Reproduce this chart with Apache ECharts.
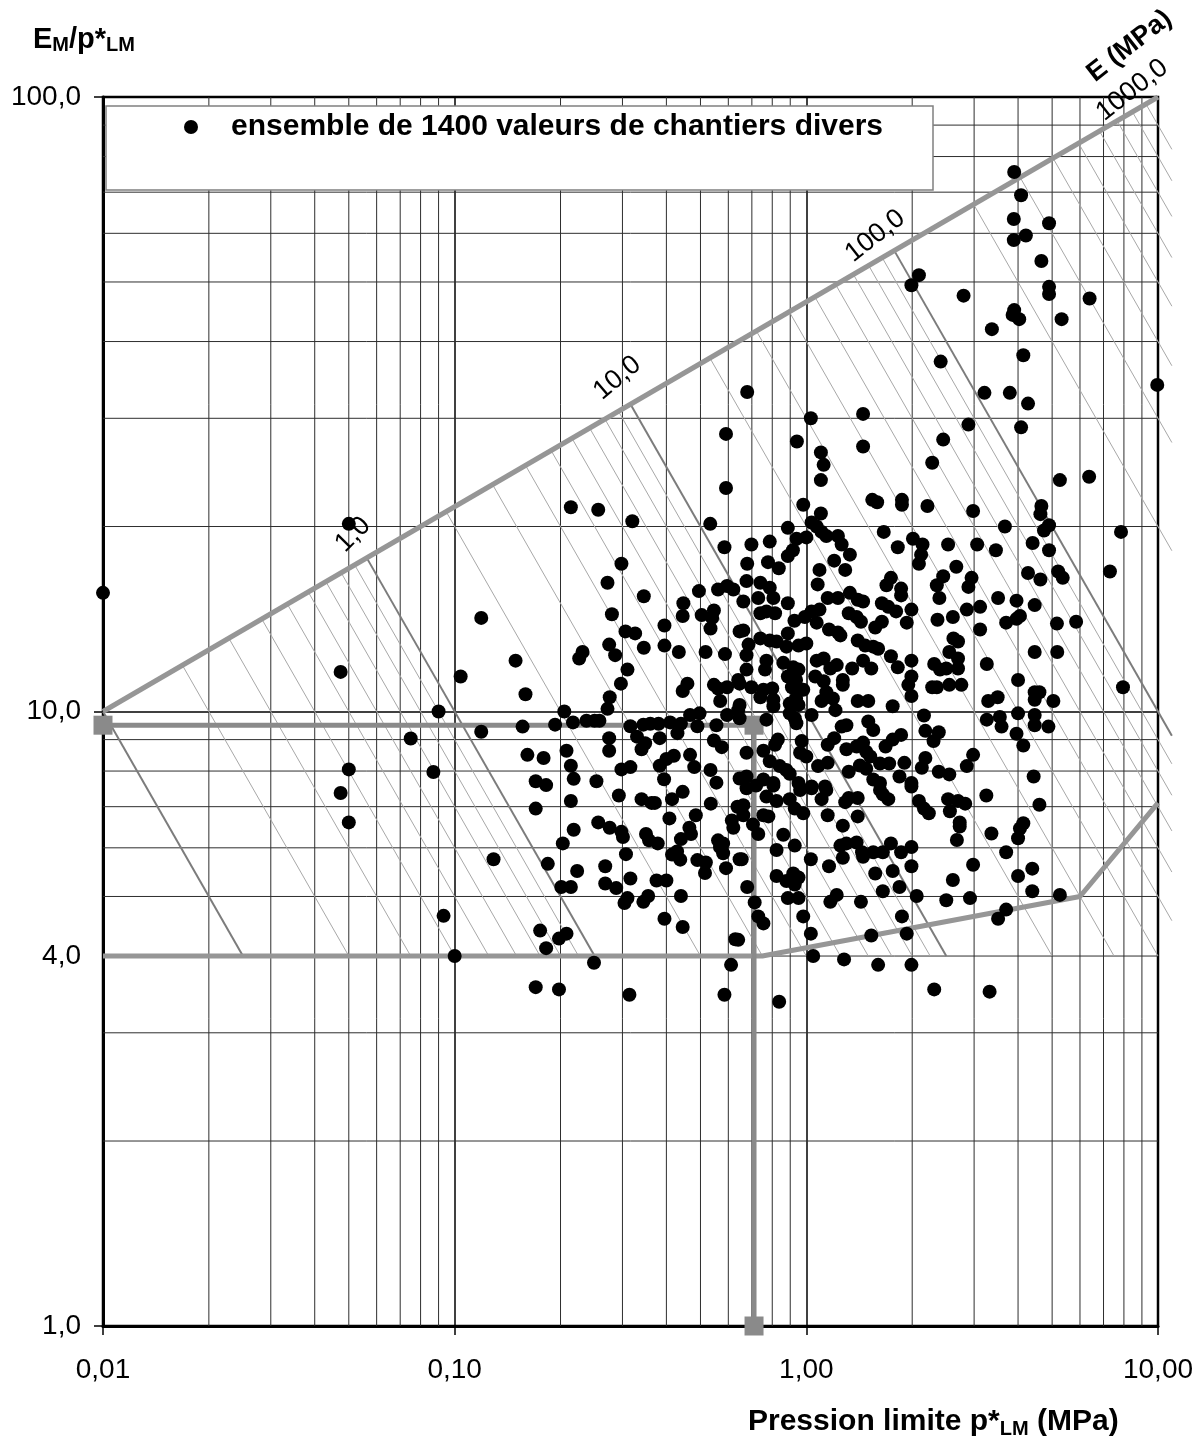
<!DOCTYPE html>
<html>
<head>
<meta charset="utf-8">
<title>EM/p*LM - Pression limite</title>
<script src="https://cdn.jsdelivr.net/npm/echarts@6/dist/echarts.min.js"></script>
<style>
  html, body { margin: 0; padding: 0; background: #fff; }
  #chart { width: 1203px; height: 1441px; }
</style>
</head>
<body>
<div id="chart"></div>
<script>
// pression limite p*LM (MPa)
const pLM = [
  0.05, 0.214, 0.256, 0.32, 0.591, 0.591, 0.533, 0.585, 0.298, 3.9,
  4.08, 3.89, 4.9, 4.21, 3.89, 4.66, 2.09, 1.99, 2.8, 4.9,
  4.9, 6.39, 3.9, 3.86, 4.03, 5.32, 3.37, 4.14, 2.41, 0.679,
  3.21, 3.79, 4.27, 9.95, 1.45, 1.03, 2.89, 4.08, 0.94, 1.45,
  2.45, 1.1, 1.12, 2.28, 1.1, 5.26, 6.37, 0.98, 1.1, 1.54,
  1.59, 1.87, 1.87, 2.21, 2.98, 4.66, 4.63, 4.9, 4.74, 3.67,
  7.85, 0.886, 1.035, 1.07, 1.105, 1.14, 1.0, 0.938, 1.23, 1.26,
  1.33, 1.66, 2.01, 2.14, 1.82, 2.12, 2.09, 2.53, 3.06, 3.46,
  4.4, 4.9, 0.698, 0.787, 0.679, 0.778, 0.835, 0.886, 0.916, 1.09,
  1.2, 1.29, 2.67, 4.27, 5.2, 7.3, 1.74, 2.45, 2.95, 4.63, 5.36,
  0.272, 0.345, 0.119, 0.28, 0.495, 0.561, 0.595, 0.62, 0.447, 0.445,
  0.504, 0.546, 0.54, 0.534, 0.395, 0.306, 0.326, 0.646, 0.275, 0.286,
  0.345, 0.395, 0.434, 0.517, 0.587, 0.231, 0.226, 0.149, 0.0474, 0.104,
  0.31, 0.297, 0.159, 0.276, 0.272, 0.459, 0.445, 0.546, 0.561, 0.595,
  0.569, 0.646, 0.646, 0.09, 0.205, 0.217, 0.237, 0.25, 0.258, 0.193,
  0.156, 0.119, 0.075, 0.316, 0.344, 0.36, 0.38, 0.41, 0.467, 0.497,
  0.44, 0.49, 0.555, 0.595, 0.646, 0.33, 0.348, 0.383, 0.34, 0.43,
  0.275, 0.275, 0.208, 0.161, 0.179, 0.546, 0.575, 0.467, 0.42, 0.4,
  0.383, 0.05, 0.087, 0.214, 0.218, 0.298, 0.316, 0.48, 0.534, 0.555,
  0.394, 0.17, 0.182, 0.253, 0.646,
  0.676, 0.74, 0.787, 0.662, 0.73, 0.806, 0.886, 1.077, 1.15, 1.23,
  1.33, 1.4, 1.45, 1.64, 1.71, 1.8, 1.69, 1.86, 1.86, 1.99,
  1.93, 2.35, 2.39, 2.89, 2.86, 3.12, 3.12, 3.51, 3.96, 4.46,
  2.36, 2.61, 3.7, 3.96, 4.05, 5.16, 5.85, 0.662, 0.74, 0.77,
  0.815, 0.925, 0.99, 1.035, 1.09, 1.07, 1.16, 1.23, 1.25, 1.32,
  1.39, 1.43, 1.57, 1.64, 0.886, 0.74, 0.787, 0.823, 0.878, 0.95,
  1.0, 0.685, 0.676, 1.4, 1.47, 1.55, 1.6, 2.62, 2.7, 2.55,
  2.7, 4.46, 5.17, 3.26, 1.74, 1.82, 1.99, 2.31, 2.4, 2.5,
  2.7, 0.77, 0.763, 0.86, 0.918, 0.95, 1.07, 1.12, 1.17, 1.22,
  1.35, 1.45, 1.53, 0.676, 0.64, 1.99, 1.95, 1.99, 2.28, 2.35,
  2.55, 2.76, 4.0, 7.95, 0.886, 0.935, 0.91, 1.06, 1.12, 1.27,
  1.27, 0.698, 0.755, 0.8, 0.98, 1.14, 0.64, 0.74, 0.806, 0.806,
  0.897, 0.935, 0.95, 1.105, 1.19, 1.21, 1.4, 1.5, 1.76, 3.29,
  3.5, 4.46, 4.6, 4.46, 5.04, 4.0, 4.46, 4.46, 4.88, 3.26,
  3.55, 3.59, 3.96, 4.14, 2.16, 2.18, 2.38, 2.3, 0.897, 0.927,
  0.937, 1.035, 0.77, 1.26, 1.3, 1.5, 1.55, 1.86, 1.76, 1.68,
  0.97, 0.83, 0.815, 1.15, 1.2, 1.3, 1.39, 1.45, 1.48, 1.52,
  0.676, 0.755, 0.96, 1.0, 2.98, 2.18, 2.13, 1.9, 1.62, 1.72,
  1.42, 1.48, 0.787, 0.84, 0.877, 1.08, 1.15, 1.32, 2.38, 2.55,
  2.86, 4.43, 1.84, 1.99, 1.55, 1.62, 0.676, 0.755, 0.806, 0.897,
  0.95, 1.035, 1.13,
  0.0474, 0.05, 0.129, 0.093, 0.1, 0.17, 0.214, 0.218, 0.203, 0.184,
  0.223, 0.201, 0.214, 0.175, 0.182, 0.198, 0.208, 0.249, 0.17, 0.198,
  0.314, 0.585, 0.611, 0.628, 0.293, 0.34, 0.363, 0.371, 0.415, 0.445,
  0.535, 0.637, 0.485, 0.408, 0.256, 0.276, 0.298, 0.301, 0.35, 0.357,
  0.378, 0.465, 0.47, 0.44, 0.561, 0.58, 0.568, 0.58, 0.62, 0.614,
  0.307, 0.268, 0.268, 0.288, 0.316, 0.415, 0.429, 0.438, 0.49, 0.518,
  0.515, 0.591, 0.646, 0.375, 0.4, 0.31, 0.304, 0.355, 0.344, 0.44,
  0.395, 0.445,
  0.676, 0.72, 0.806, 0.96, 1.035, 1.14, 1.62, 1.65, 1.71, 1.99,
  0.77, 0.823, 0.897, 0.927, 0.98, 1.105, 1.29, 1.32, 1.4, 1.15,
  1.4, 1.27, 0.662, 0.662, 0.755, 0.78, 0.705, 0.73, 0.86, 0.927,
  0.823, 0.655, 1.03, 1.16, 1.25, 1.3, 1.27, 1.39, 1.44, 1.45,
  1.55, 1.65, 1.74, 1.86, 1.99, 1.99, 1.57, 1.76, 1.84, 1.65,
  2.06, 0.823, 0.878, 0.918, 0.95, 0.927, 0.679, 0.886, 0.95, 1.17,
  1.22, 1.43, 0.713, 0.73, 0.755, 0.98, 0.64, 1.03, 1.046, 1.28,
  1.53, 1.87, 1.93, 1.6, 1.99, 2.31, 3.32, 0.837, 2.09, 2.16,
  2.23, 2.53, 2.7, 2.83, 2.56, 2.73, 2.73, 2.68, 3.25, 4.6,
  3.36, 4.14, 4.05, 4.0, 3.7, 2.98, 2.61, 2.5, 2.92, 4.0,
  4.39, 4.39, 5.26, 3.7, 3.51,
  0.01
];

// rapport EM/p*LM correspondant
const ratio = [
  20.2, 21.5, 21.3, 20.4, 28.3, 23.1, 20.2, 18.5, 17.4, 75.5,
  69.2, 63.3, 62.3, 59.5, 58.5, 54.1, 51.3, 49.4, 47.5, 49.1,
  47.8, 47.0, 45.0, 44.2, 43.5, 43.5, 41.9, 38.0, 37.1, 33.1,
  33.0, 33.0, 31.7, 34.0, 30.5, 30.0, 29.3, 29.0, 27.5, 27.0,
  27.7, 26.4, 25.2, 25.4, 23.8, 23.8, 24.1, 21.7, 21.0, 22.1,
  21.9, 22.1, 21.7, 21.6, 21.2, 21.6, 20.95, 20.1, 19.7, 20.0,
  19.6, 19.9, 20.3, 20.0, 19.6, 19.3, 19.2, 19.1, 19.3, 18.7,
  18.0, 19.6, 19.1, 18.7, 18.5, 18.0, 17.4, 18.7, 18.7, 18.3,
  18.8, 18.3, 18.7, 18.9, 17.4, 17.5, 17.1, 17.9, 18.3, 17.0,
  17.6, 17.0, 17.2, 16.8, 16.9, 16.9, 16.5, 16.6, 16.5, 16.4, 16.5,
  16.2, 15.4, 14.2, 14.4, 15.7, 15.8, 16.0, 15.8, 15.0, 14.3,
  14.35, 14.6, 14.2, 13.65, 13.8, 13.5, 13.4, 13.5, 12.85, 12.35,
  12.7, 12.8, 12.5, 12.5, 12.4, 12.5, 12.2, 12.1, 11.6, 11.4,
  11.7, 11.1, 10.67, 10.55, 10.1, 11.1, 10.8, 11.05, 10.9, 10.95,
  10.4, 11.1, 10.25, 10.0, 10.0, 9.6, 9.66, 9.66, 9.66, 9.52,
  9.45, 9.27, 9.04, 9.46, 9.52, 9.55, 9.55, 9.6, 9.87, 9.93,
  9.55, 9.46, 9.5, 9.87, 9.75, 9.1, 8.88, 9.05, 8.68, 9.22,
  9.05, 8.63, 8.63, 8.5, 8.4, 8.97, 8.75, 8.5, 8.47, 8.37,
  8.16, 8.05, 7.97, 8.16, 7.77, 8.05, 8.12, 8.12, 8.03, 7.66,
  7.76, 7.7, 7.59, 7.7, 7.78,
  16.3, 16.2, 15.9, 15.1, 15.3, 15.3, 15.0, 16.1, 15.3, 15.3,
  15.6, 15.2, 15.1, 15.0, 14.8, 14.55, 16.05, 15.85, 15.45, 14.65,
  13.95, 16.05, 15.3, 15.95, 14.65, 14.8, 13.6, 15.3, 15.15, 14.9,
  14.1, 14.25, 13.95, 14.15, 14.3, 13.9, 14.0, 13.55, 14.45, 14.55,
  14.45, 14.05, 14.25, 14.55, 14.65, 13.95, 13.6, 13.45, 13.3, 14.45,
  14.25, 14.0, 13.7, 14.0, 13.4, 13.15, 13.05, 13.0, 12.75, 12.8,
  12.9, 12.85, 12.35, 13.05, 12.8, 12.75, 12.65, 13.15, 13.0, 12.5,
  12.2, 12.5, 12.5, 11.95, 12.3, 11.8, 12.1, 11.95, 11.7, 11.75,
  11.75, 12.1, 11.7, 12.0, 11.8, 11.7, 12.1, 12.2, 11.75, 11.9,
  11.75, 12.1, 11.75, 11.7, 11.25, 11.4, 11.05, 10.6, 10.95, 10.95,
  11.05, 11.05, 11.25, 10.95, 11.4, 11.25, 10.95, 11.4, 11.2, 11.25,
  11.05, 10.95, 10.85, 10.9, 10.85, 10.75, 10.05, 10.55, 10.45, 10.2,
  10.3, 10.5, 10.25, 10.4, 10.5, 10.05, 10.4, 10.4, 10.2, 10.4,
  10.55, 10.75, 10.75, 10.45, 10.4, 9.93, 9.87, 9.5, 9.45, 9.7,
  9.8, 9.45, 9.2, 8.8, 9.85, 9.3, 9.25, 8.95, 9.93, 9.75,
  9.57, 9.87, 9.7, 9.45, 9.5, 9.63, 9.33, 9.16, 9.0, 8.77,
  8.95, 9.0, 8.83, 8.83, 9.05, 8.68, 8.77, 8.9, 8.6, 8.45,
  8.57, 8.63, 8.57, 8.45, 8.5, 8.4, 8.1, 8.25, 8.23, 8.23,
  8.17, 8.07, 8.3, 8.15, 8.03, 8.15, 8.25, 7.98, 7.98, 7.9,
  8.15, 7.84, 7.84, 7.65, 7.75, 7.65, 7.84, 7.75, 7.65, 7.92,
  7.65, 7.55, 7.55,
  7.37, 6.6, 5.75, 4.65, 4.0, 6.95, 7.15, 6.42, 6.1, 5.65,
  5.5, 5.18, 5.18, 4.4, 4.12, 4.27, 4.35, 3.9, 3.56, 3.53,
  3.46, 3.46, 3.87, 4.26, 7.3, 7.2, 7.1, 7.1, 7.2, 7.4,
  7.08, 7.0, 6.78, 6.7, 6.6, 6.47, 6.37, 6.25, 6.32, 6.17,
  6.1, 6.47, 6.32, 6.2, 6.17, 6.1, 6.02, 5.88, 6.47, 6.65,
  5.86, 5.6, 5.25, 5.16, 5.35, 5.85, 5.92, 5.74, 5.73, 5.68,
  5.46, 5.56, 5.75, 5.31, 5.31, 4.97, 4.88, 5.01, 4.9, 5.01,
  4.6, 4.46,
  7.5, 7.58, 7.58, 7.45, 7.5, 7.45, 7.45, 7.33, 7.2, 7.55,
  7.27, 7.15, 7.2, 6.95, 6.83, 7.2, 7.12, 7.23, 7.23, 6.78,
  6.75, 6.52, 7.04, 6.78, 6.78, 6.75, 6.55, 6.32, 6.3, 6.05,
  5.95, 5.75, 5.75, 5.6, 6.05, 6.1, 5.78, 6.12, 5.9, 5.8,
  5.9, 5.9, 6.1, 5.9, 6.02, 5.6, 5.45, 5.5, 5.18, 5.1,
  5.01, 5.4, 5.3, 5.45, 5.37, 5.23, 5.18, 4.97, 4.97, 4.9,
  5.03, 4.9, 4.89, 4.64, 4.52, 4.64, 4.25, 4.35, 4.0, 3.95,
  4.32, 4.64, 4.35, 3.87, 3.87, 3.53, 3.5, 3.37, 7.15, 6.95,
  6.83, 7.2, 7.15, 7.08, 6.88, 6.6, 6.5, 6.18, 7.3, 7.05,
  6.33, 6.58, 6.45, 6.22, 5.9, 5.63, 5.32, 4.93, 4.97, 5.4,
  5.55, 5.1, 5.03, 4.76, 4.6,
  15.6
];

const legendName = 'ensemble de 1400 valeurs de chantiers divers';

// graduations secondaires et étiquettes de l'axe vertical
const xMinor = [0.02, 0.03, 0.04, 0.05, 0.06, 0.07, 0.08, 0.09,
                0.2, 0.3, 0.4, 0.5, 0.6, 0.7, 0.8, 0.9,
                2, 3, 4, 5, 6, 7, 8, 9];
const yMinor = [2, 3, 4, 5, 6, 7, 8, 9, 20, 30, 40, 50, 60, 70, 80, 90];
const yLabelValues = [1, 4, 10, 100];

// droites iso-module E (MPa) : E/p*LM = E / p*LM
const eMain = [0.1, 1, 10, 100];
const eHatch = [0.2, 0.3, 0.4, 0.5, 0.6, 0.7, 0.8, 0.9,
                2, 3, 4, 5, 6, 7, 8, 9,
                20, 30, 40, 50, 60, 70, 80, 90,
                200, 300, 400, 500, 600, 700, 800, 900];

// enveloppes et construction
const upperEnv = [[0.01, 10], [10, 100]];
const lowerEnv = [[0.01, 4], [0.75, 4], [6, 5], [10, 7.1]];
const refLine = [[0.01, 9.5], [0.71, 9.5], [0.71, 1]];

const FONT = "'Liberation Sans', Arial, sans-serif";

// segment d'une droite iso-E, de l'enveloppe haute jusqu'à E/p = 4
const slope = Math.log10(upperEnv[1][1] / upperEnv[0][1]) / Math.log10(upperEnv[1][0] / upperEnv[0][0]);
const baseRatio = lowerEnv[0][1];
const xClip = 10.95;
function isoSegment(E) {
  const x0 = Math.pow(E * Math.pow(upperEnv[0][0], slope) / upperEnv[0][1], 1 / (1 + slope));
  const x1 = Math.min(E / baseRatio, xClip);
  return [x0, E / x0, x1, E / x1];
}

function segmentRenderer(color, width) {
  return function (params, api) {
    const a = api.coord([api.value(0), api.value(1)]);
    const b = api.coord([api.value(2), api.value(3)]);
    return {
      type: 'line',
      shape: { x1: a[0], y1: a[1], x2: b[0], y2: b[1] },
      style: { stroke: color, lineWidth: width }
    };
  };
}

const minorGrid = xMinor.map(v => [v, 1, v, 100]).concat(yMinor.map(v => [0.01, v, 10, v]));
const n = Math.min(pLM.length, ratio.length);
const points = [];
for (let i = 0; i < n; i++) points.push([pLM[i], ratio[i]]);

const chart = echarts.init(document.getElementById('chart'));
const option = {
  backgroundColor: '#fff',
  animation: false,
  textStyle: { fontFamily: FONT },
  grid: {
    left: 103, right: 45, top: 97, bottom: 115,
    show: true, borderColor: '#000', borderWidth: 2.5,
    outerBoundsMode: 'none'
  },
  legend: {
    left: 184, top: 112, padding: 0,
    itemWidth: 14, itemHeight: 14,
    selectedMode: false,
    z: 11,
    data: [{ name: legendName, icon: 'circle', itemStyle: { color: '#000', opacity: 1 } }],
    textStyle: { fontSize: 30, fontWeight: 'bold', color: '#000', fontFamily: FONT, padding: [0, 0, 0, 28] }
  },
  xAxis: {
    type: 'log', logBase: 10, min: 0.01, max: 10,
    axisLine: { onZero: false, lineStyle: { color: '#000', width: 3 } },
    axisTick: { length: 9, lineStyle: { color: '#000', width: 1.5 } },
    axisLabel: {
      margin: 30, fontSize: 28, color: '#000', fontFamily: FONT,
      formatter: v => Number(v).toFixed(2).replace('.', ',')
    },
    splitLine: { show: true, lineStyle: { color: '#000', width: 1.5 } }
  },
  yAxis: {
    type: 'log', logBase: 10, min: 1, max: 100,
    axisLine: { onZero: false, lineStyle: { color: '#000', width: 3 } },
    axisTick: { length: 9, lineStyle: { color: '#000', width: 1.5 } },
    axisLabel: {
      margin: 22, fontSize: 28, color: '#000', fontFamily: FONT,
      customValues: yLabelValues,
      formatter: v => Number(v).toFixed(1).replace('.', ',')
    },
    splitLine: { show: true, lineStyle: { color: '#000', width: 1.5 } }
  },
  graphic: [
    {
      type: 'rect', z: 10, silent: true,
      shape: { x: 106, y: 106, width: 827, height: 84 },
      style: { fill: '#fff', stroke: '#808080', lineWidth: 1.5 }
    },
    {
      type: 'text', left: 33, top: 25, z: 10,
      style: {
        text: '{a|E}{s|M}{a|/p*}{s|LM}',
        rich: {
          a: { fontSize: 29, fontWeight: 'bold', fontFamily: FONT, fill: '#000', lineHeight: 32 },
          s: { fontSize: 20, fontWeight: 'bold', fontFamily: FONT, fill: '#000', verticalAlign: 'bottom', lineHeight: 20 }
        }
      }
    },
    {
      type: 'text', left: 748, top: 1407, z: 10,
      style: {
        text: '{a|Pression limite p*}{s|LM}{a| (MPa)}',
        rich: {
          a: { fontSize: 30, fontWeight: 'bold', fontFamily: FONT, fill: '#000', lineHeight: 34 },
          s: { fontSize: 20, fontWeight: 'bold', fontFamily: FONT, fill: '#000', verticalAlign: 'bottom', lineHeight: 21 }
        }
      }
    }
  ],
  series: [
    {
      type: 'custom', name: 'grille', silent: true, z: 1,
      renderItem: segmentRenderer('#2e2e2e', 1),
      data: minorGrid
    },
    {
      type: 'custom', name: 'hachures', silent: true, z: 2, clip: false,
      renderItem: segmentRenderer('#a8a8a8', 1),
      data: eHatch.map(isoSegment)
    },
    {
      type: 'custom', name: 'iso E', silent: true, z: 2, clip: false,
      renderItem: segmentRenderer('#7c7c7c', 2),
      data: eMain.map(isoSegment)
    },
    {
      type: 'line', name: 'enveloppe haute', silent: true, z: 3,
      data: upperEnv, symbol: 'none',
      lineStyle: { color: '#969696', width: 5 }
    },
    {
      type: 'line', name: 'enveloppe basse', silent: true, z: 3,
      data: lowerEnv, symbol: 'none',
      lineStyle: { color: '#969696', width: 5 }
    },
    {
      type: 'line', name: 'exemple', silent: true, z: 3,
      data: refLine, symbol: 'rect', symbolSize: 19,
      itemStyle: { color: '#8a8a8a', opacity: 1 },
      lineStyle: { color: '#8a8a8a', width: 5 }
    },
    {
      type: 'scatter', name: legendName, z: 5,
      data: points, symbol: 'circle', symbolSize: 14,
      itemStyle: { color: '#000', opacity: 1 }
    },
    {
      type: 'scatter', name: 'etiquettes', silent: true, z: 6, clip: false,
      symbolSize: 0,
      itemStyle: { opacity: 1 },
      label: {
        show: true, position: 'inside', color: '#000', fontFamily: FONT,
        fontSize: 27, formatter: p => p.name
      },
      data: [
        { name: '1,0', value: [0.0514, 19.4], label: { rotate: 45 } },
        { name: '10,0', value: [0.29, 34.9], label: { rotate: 40 } },
        { name: '100,0', value: [1.57, 59.4], label: { rotate: 38 } },
        { name: '1000,0', value: [8.44, 102.6], label: { rotate: 38 } },
        { name: 'E (MPa)', value: [8.3, 121], label: { rotate: 38, fontWeight: 'bold', fontSize: 27 } }
      ]
    }
  ]
};
chart.setOption(option);
window.addEventListener('resize', function () {
  chart.resize();
});
</script>
</body>
</html>
